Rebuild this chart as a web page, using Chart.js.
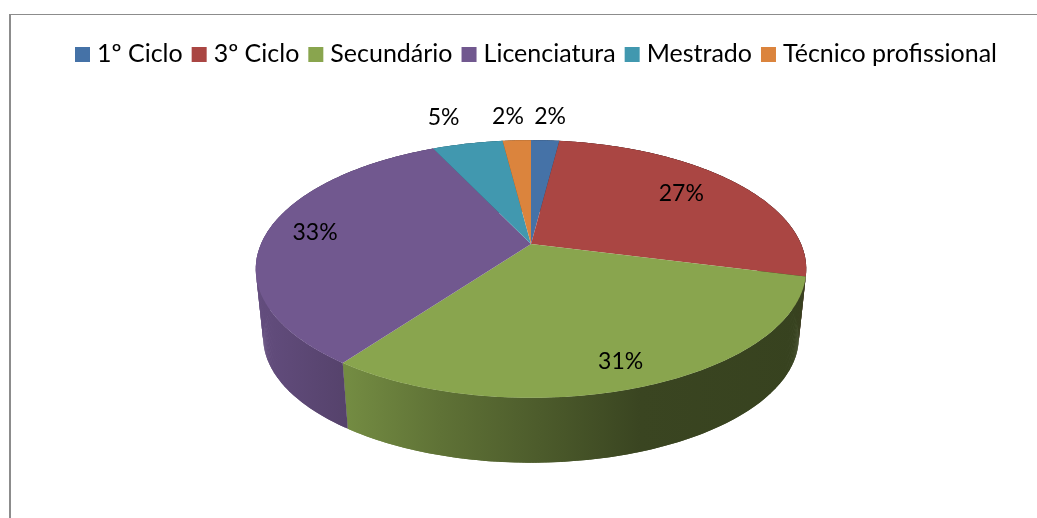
<!DOCTYPE html>
<html>
<head>
<meta charset="utf-8">
<title>Habilitações</title>
<script src="https://cdn.jsdelivr.net/npm/chart.js@4"></script>
<style>
  html, body { margin: 0; background: #fff; }
  #chart { display: block; }
</style>
</head>
<body>
<canvas id="chart" width="1037" height="518"></canvas>
<script>
const categories = ["1º Ciclo", "3º Ciclo", "Secundário", "Licenciatura", "Mestrado", "Técnico profissional"];
const percentages = [2, 27, 31, 33, 5, 2];
const colors = ["#4572A7", "#AA4643", "#89A54E", "#71588F", "#4198AF", "#DB843D"];

// perspective of the tilted pie, worked out from the reference outline
const tilt = { stretchX: 270, stretchY: 124, persp: -0.194, depth: 69, shrink: 0.973 };

// where each percent label sits: radius along the slice middle, then a small nudge
const labelRadius = [1.25, 0.8, 0.8, 0.8, 1.25, 1.25];
const labelNudge = [[2, -3], [-14, 1], [4, 8], [-4, -2], [-11, -6], [-6, -3]];

// side wall shading, brightness by x position
const wallLeft = 256, wallRight = 806;
const wallShade = [[349, 0.84], [440, 0.69], [640, 0.42], [806, 0.4]];
const purpleShade = [[256, 0.88], [349, 0.75]];

function project(arc, angle, r) {
    const u = r * Math.cos(angle), v = r * Math.sin(angle);
    const w = 1 + tilt.persp * v;
    return { x: arc.x + tilt.stretchX * u / w, y: arc.y + tilt.stretchY * v / w };
}

function lowerEdge(arc, p) {
    return {
        x: arc.x + (p.x - arc.x) * tilt.shrink,
        y: arc.y + (p.y - arc.y) * tilt.shrink + tilt.depth
    };
}

function rimPoints(arc) {
    const pts = [];
    const steps = Math.max(4, Math.ceil((arc.endAngle - arc.startAngle) / 0.01));
    for (let i = 0; i <= steps; i++) {
        const a = arc.startAngle + (arc.endAngle - arc.startAngle) * i / steps;
        pts.push(project(arc, a, 1));
    }
    return pts;
}

function shaded(hex, factor) {
    const n = parseInt(hex.slice(1), 16);
    const c = [n >> 16, (n >> 8) & 255, n & 255].map(v => Math.round(v * factor));
    return `rgb(${c[0]},${c[1]},${c[2]})`;
}

function wallFill(ctx, index) {
    const stops = index === 3 ? purpleShade : wallShade;
    const grad = ctx.createLinearGradient(wallLeft, 0, wallRight, 0);
    stops.forEach(s => grad.addColorStop((s[0] - wallLeft) / (wallRight - wallLeft), shaded(colors[index], s[1])));
    return grad;
}

/* ------------------------------
   Draws the arcs the pie controller laid out as a tilted 3D disc
--------------------------------*/
const tiltedPie = {
    id: "tiltedPie",
    beforeDraw(chart) {
        const ctx = chart.ctx;
        ctx.save();
        ctx.fillStyle = "#8c8c8c";
        ctx.fillRect(9, 14, 1028, 1);
        ctx.fillRect(9, 14, 2, 504);

        // legend row, the gap between swatch and text is tighter than the built-in legend allows
        ctx.font = "25px Lato";
        ctx.textBaseline = "middle";
        let x = 75;
        categories.forEach((name, i) => {
            ctx.fillStyle = colors[i];
            ctx.fillRect(x, 47, 15, 15);
            ctx.fillStyle = "#000";
            ctx.fillText(name, x + 22, 54);
            x += 22 + ctx.measureText(name).width + 9;
        });
        ctx.restore();
    },
    beforeDatasetsDraw(chart) {
        const ctx = chart.ctx;
        const arcs = chart.getDatasetMeta(0).data;
        ctx.save();

        // side walls first, the top face covers whatever is behind it
        // one small quad per step, a single outline would fold over itself at the widest point
        arcs.forEach((arc, i) => {
            const top = rimPoints(arc);
            ctx.fillStyle = wallFill(ctx, i);
            for (let k = 0; k < top.length - 1; k++) {
                const next = top[Math.min(k + 2, top.length - 1)];
                const a = lowerEdge(arc, top[k]), b = lowerEdge(arc, next);
                ctx.beginPath();
                ctx.moveTo(top[k].x, top[k].y);
                ctx.lineTo(next.x, next.y);
                ctx.lineTo(b.x, b.y);
                ctx.lineTo(a.x, a.y);
                ctx.closePath();
                ctx.fill();
            }
        });

        arcs.forEach((arc, i) => {
            ctx.beginPath();
            ctx.moveTo(arc.x, arc.y);
            rimPoints(arc).forEach(p => ctx.lineTo(p.x, p.y));
            ctx.closePath();
            ctx.fillStyle = colors[i];
            ctx.fill();
        });

        ctx.fillStyle = "#000";
        ctx.font = "23px Lato";
        ctx.textAlign = "center";
        ctx.textBaseline = "middle";
        arcs.forEach((arc, i) => {
            const mid = (arc.startAngle + arc.endAngle) / 2;
            const p = project(arc, mid, labelRadius[i]);
            ctx.fillText(percentages[i] + "%", p.x + labelNudge[i][0], p.y + labelNudge[i][1]);
        });

        ctx.restore();
        return false;
    }
};

new Chart(document.getElementById("chart"), {
    type: "pie",
    data: {
        labels: categories,
        datasets: [{
            data: percentages,
            backgroundColor: colors,
            borderWidth: 0
        }]
    },
    options: {
        responsive: false,
        animation: false,
        layout: { padding: { top: 72, left: 25, bottom: 102 } },
        plugins: {
            tooltip: { enabled: false },
            legend: { display: false }
        }
    },
    plugins: [tiltedPie]
});
</script>
</body>
</html>
